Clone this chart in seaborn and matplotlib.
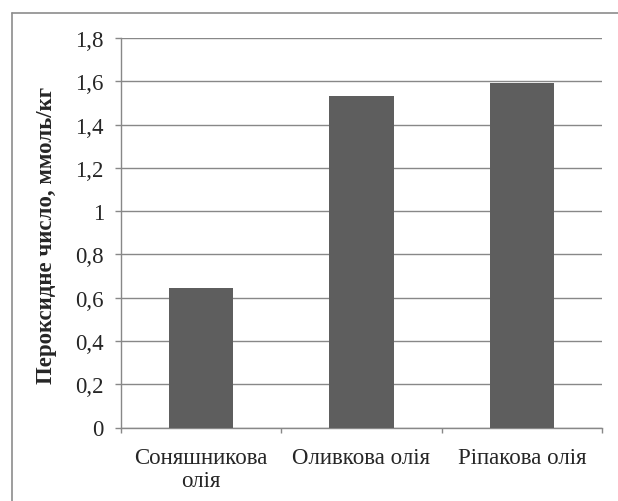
import matplotlib
matplotlib.use("Agg")
import matplotlib.pyplot as plt
from matplotlib.ticker import FuncFormatter, FixedLocator
from matplotlib.lines import Line2D
import seaborn as sns
import pandas as pd

categories = ["Соняшникова\nолія", "Оливкова олія", "Ріпакова олія"]
peroxide_values = [0.645, 1.53, 1.59]
y_ticks = [0, 0.2, 0.4, 0.6, 0.8, 1.0, 1.2, 1.4, 1.6, 1.8]
y_label = "Пероксидне число, ммоль/кг"

sns.set_style("white")
plt.rcParams["font.family"] = ["Liberation Serif", "DejaVu Serif"]

df = pd.DataFrame({"oil": categories, "value": peroxide_values})

fig = plt.figure(figsize=(6.18, 5.02), dpi=100)
ax = fig.add_axes([121 / 618, 1 - 428.5 / 502, (602 - 121) / 618, (428.5 - 39) / 502])

sns.barplot(data=df, x="oil", y="value", color="#5e5e5e", saturation=1,
            width=0.40, ax=ax, zorder=3, edgecolor="none")

grid_color = "#888888"
ax.set_ylim(0, 1.8)
ax.set_xlim(-0.5, 2.5)
ax.yaxis.set_major_locator(FixedLocator(y_ticks))
ax.yaxis.set_major_formatter(FuncFormatter(
    lambda v, _: ("%g" % round(v, 1)).replace(".", ",")))
ax.grid(axis="y", color=grid_color, linewidth=1.0, zorder=0)
ax.set_axisbelow(True)

for side in ["top", "right"]:
    ax.spines[side].set_visible(False)
for side in ["left", "bottom"]:
    ax.spines[side].set_color(grid_color)
    ax.spines[side].set_linewidth(1.0)

ax.tick_params(axis="y", which="major", direction="out", length=4.3, width=1.0,
               color=grid_color, labelsize=16.5, pad=8, left=True)
ax.tick_params(axis="x", which="major", length=0, labelsize=16.5, pad=14)
ax.xaxis.set_minor_locator(FixedLocator([-0.5, 0.5, 1.5, 2.5]))
ax.tick_params(axis="x", which="minor", direction="out", length=3.6, width=1.0,
               color=grid_color, bottom=True)
for lbl in ax.get_xticklabels():
    lbl.set_linespacing(1.1)

ax.set_xlabel("")
ax.set_ylabel(y_label, fontsize=16.5, fontweight="bold")
ax.yaxis.set_label_coords((57 - 121) / 481, (428.5 - 235) / 389.5)

# chart frame around the whole figure
frame_color = "#8c8c8c"
fig.add_artist(Line2D([12 / 618, 12 / 618], [1 - 14 / 502, -0.05],
                      transform=fig.transFigure, color=frame_color, linewidth=1.2))
fig.add_artist(Line2D([12 / 618, 1.05], [1 - 14 / 502, 1 - 14 / 502],
                      transform=fig.transFigure, color=frame_color, linewidth=1.2))

fig.savefig("out.png", dpi=100)
